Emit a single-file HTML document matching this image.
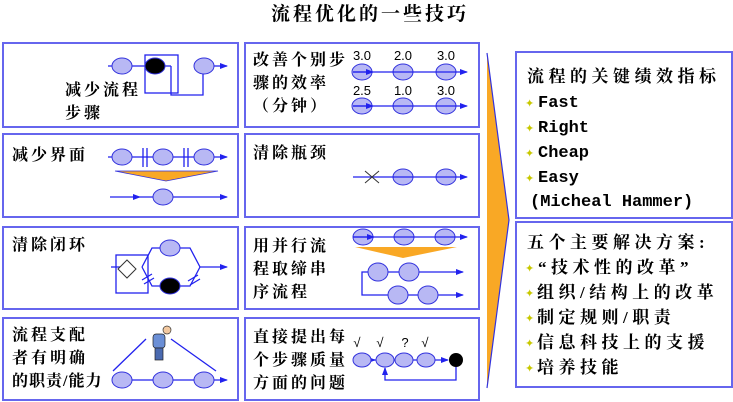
<!DOCTYPE html>
<html><head><meta charset="utf-8"><style>
html,body{margin:0;padding:0;background:#fff;}
svg{display:block;}
.t{font-family:"Liberation Serif","Noto Serif CJK SC",serif;font-weight:bold;font-size:16px;letter-spacing:3px;fill:#000;}
.r{font-family:"Liberation Serif","Noto Serif CJK SC",serif;font-weight:bold;font-size:17px;letter-spacing:4.5px;fill:#000;}
.m{font-family:"Liberation Mono",monospace;font-weight:bold;font-size:17px;fill:#000;}
.n{font-family:"Liberation Sans",sans-serif;font-size:13px;fill:#000;}
.b{fill:none;stroke:#6666ee;stroke-width:2;}
.l{stroke:#2222ee;stroke-width:1.3;fill:none;}
.e{fill:#b8b8f4;stroke:#3333dd;stroke-width:1;}
.k{fill:#000;stroke:#3333dd;stroke-width:1;}
.bul{fill:#c8c800;font-size:11px;font-family:"DejaVu Sans",sans-serif;}
</style></head><body>
<svg width="733" height="402" viewBox="0 0 733 402" xmlns="http://www.w3.org/2000/svg">
<defs><marker id="a" markerWidth="8" markerHeight="6" refX="7" refY="3" orient="auto" markerUnits="userSpaceOnUse"><path d="M0,0L8,3L0,6z" fill="#2222ee"/></marker></defs>
<text x="370" y="20" text-anchor="middle" class="t" style="font-size:19px;letter-spacing:3px">流程优化的一些技巧</text>

<rect x="3" y="43" width="235" height="84" class="b"/>
<rect x="3" y="134" width="235" height="83" class="b"/>
<rect x="3" y="227" width="235" height="82" class="b"/>
<rect x="3" y="318" width="235" height="82" class="b"/>
<rect x="245" y="43" width="234" height="84" class="b"/>
<rect x="245" y="134" width="234" height="83" class="b"/>
<rect x="245" y="227" width="234" height="82" class="b"/>
<rect x="245" y="318" width="234" height="82" class="b"/>
<rect x="516" y="52" width="216" height="166" class="b"/>
<rect x="516" y="222" width="216" height="165" class="b"/>

<polygon points="487,53 509,220 487,388" fill="#f9a825"/>
<path d="M487,53 L509,220 L487,388" stroke="#3333dd" stroke-width="1.2" fill="none"/>

<!-- L1 -->
<text x="65" y="95" class="t">减少流程</text>
<text x="65" y="118" class="t">步骤</text>
<line x1="108" y1="66" x2="171" y2="66" class="l"/>
<rect x="145" y="55" width="33" height="38" class="l"/>
<path d="M171,66 V95 H203 V74" class="l"/>
<line x1="214" y1="66" x2="227" y2="66" class="l" marker-end="url(#a)"/>
<ellipse cx="122" cy="66" rx="10" ry="8" class="e"/>
<ellipse cx="155" cy="66" rx="10" ry="8" class="k"/>
<ellipse cx="204" cy="66" rx="10" ry="8" class="e"/>

<!-- L2 -->
<text x="12" y="160" class="t">减少界面</text>
<line x1="108" y1="157" x2="227" y2="157" class="l" marker-end="url(#a)"/>
<path d="M143,148V167M147,148V167M184,148V167M188,148V167" class="l"/>
<ellipse cx="122" cy="157" rx="10" ry="8" class="e"/>
<ellipse cx="163" cy="157" rx="10" ry="8" class="e"/>
<ellipse cx="204" cy="157" rx="10" ry="8" class="e"/>
<polygon points="115,171 218,171 166,181" fill="#f9a825" stroke="#3333dd" stroke-width="0.8"/>
<line x1="110" y1="197" x2="140" y2="197" class="l" marker-end="url(#a)"/>
<line x1="140" y1="197" x2="227" y2="197" class="l" marker-end="url(#a)"/>
<ellipse cx="163" cy="197" rx="10" ry="8" class="e"/>

<!-- L3 -->
<text x="12" y="250" class="t">清除闭环</text>
<line x1="111" y1="267" x2="120" y2="267" class="l"/>
<rect x="116" y="255" width="32" height="38" class="l"/>
<polygon points="127,260 136,269 127,278 118,269" fill="#fff" stroke="#333" stroke-width="1"/>
<path d="M142,267 L152,248 H190 L200,267" class="l"/>
<path d="M142,267 L152,286 H190 L200,267" class="l"/>
<line x1="200" y1="267" x2="227" y2="267" class="l" marker-end="url(#a)"/>
<path d="M142,280L152,274M144,284L154,278M188,281L198,275M190,285L200,279" class="l"/>
<ellipse cx="170" cy="248" rx="10" ry="8" class="e"/>
<ellipse cx="170" cy="286" rx="10" ry="8" class="k"/>

<!-- L4 -->
<text x="12" y="340" class="t">流程支配</text>
<text x="12" y="363" class="t">者有明确</text>
<text x="12" y="386" class="t" style="letter-spacing:1px">的职责/能力</text>
<line x1="113" y1="371" x2="146" y2="339" class="l"/>
<line x1="171" y1="339" x2="216" y2="371" class="l"/>
<line x1="113" y1="380" x2="227" y2="380" class="l" marker-end="url(#a)"/>
<ellipse cx="122" cy="380" rx="10" ry="8" class="e"/>
<ellipse cx="163" cy="380" rx="10" ry="8" class="e"/>
<ellipse cx="204" cy="380" rx="10" ry="8" class="e"/>
<circle cx="167" cy="330" r="4" fill="#f3c9a0" stroke="#333" stroke-width="0.7"/>
<rect x="153" y="334" width="12" height="14" rx="3" fill="#6b8fd6" stroke="#222" stroke-width="0.7"/>
<rect x="155" y="348" width="8" height="12" fill="#4a6ab0" stroke="#222" stroke-width="0.7"/>

<!-- M1 -->
<text x="253" y="65" class="t">改善个别步</text>
<text x="253" y="88" class="t">骤的效率</text>
<text x="253" y="111" class="t">（分钟）</text>
<text x="362" y="60" class="n" text-anchor="middle">3.0</text>
<text x="403" y="60" class="n" text-anchor="middle">2.0</text>
<text x="446" y="60" class="n" text-anchor="middle">3.0</text>
<text x="362" y="95" class="n" text-anchor="middle">2.5</text>
<text x="403" y="95" class="n" text-anchor="middle">1.0</text>
<text x="446" y="95" class="n" text-anchor="middle">3.0</text>
<ellipse cx="362" cy="72" rx="10" ry="8" class="e"/><ellipse cx="403" cy="72" rx="10" ry="8" class="e"/><ellipse cx="446" cy="72" rx="10" ry="8" class="e"/>
<ellipse cx="362" cy="106" rx="10" ry="8" class="e"/><ellipse cx="403" cy="106" rx="10" ry="8" class="e"/><ellipse cx="446" cy="106" rx="10" ry="8" class="e"/>
<line x1="353" y1="72" x2="373" y2="72" class="l" marker-end="url(#a)"/>
<line x1="353" y1="72" x2="467" y2="72" class="l" marker-end="url(#a)"/>
<line x1="353" y1="106" x2="373" y2="106" class="l" marker-end="url(#a)"/>
<line x1="353" y1="106" x2="467" y2="106" class="l" marker-end="url(#a)"/>

<!-- M2 -->
<text x="253" y="158" class="t">清除瓶颈</text>
<ellipse cx="403" cy="177" rx="10" ry="8" class="e"/><ellipse cx="446" cy="177" rx="10" ry="8" class="e"/>
<line x1="353" y1="177" x2="467" y2="177" class="l" marker-end="url(#a)"/>
<path d="M365,171L379,183M379,171L365,183" stroke="#333" stroke-width="1"/>

<!-- M3 -->
<text x="253" y="251" class="t">用并行流</text>
<text x="253" y="274" class="t">程取缔串</text>
<text x="253" y="297" class="t">序流程</text>
<ellipse cx="363" cy="237" rx="10" ry="8" class="e"/><ellipse cx="404" cy="237" rx="10" ry="8" class="e"/><ellipse cx="445" cy="237" rx="10" ry="8" class="e"/>
<line x1="353" y1="237" x2="374" y2="237" class="l" marker-end="url(#a)"/>
<line x1="353" y1="237" x2="467" y2="237" class="l" marker-end="url(#a)"/>
<polygon points="355,247 457,247 403,258" fill="#f9a825"/>
<path d="M368,272 H362 V295 H388" class="l"/>
<line x1="368" y1="272" x2="463" y2="272" class="l" marker-end="url(#a)"/>
<line x1="388" y1="295" x2="463" y2="295" class="l" marker-end="url(#a)"/>
<ellipse cx="378" cy="272" rx="10" ry="9" class="e"/><ellipse cx="409" cy="272" rx="10" ry="9" class="e"/>
<ellipse cx="398" cy="295" rx="10" ry="9" class="e"/><ellipse cx="428" cy="295" rx="10" ry="9" class="e"/>

<!-- M4 -->
<text x="253" y="342" class="t">直接提出每</text>
<text x="253" y="365" class="t">个步骤质量</text>
<text x="253" y="388" class="t">方面的问题</text>
<text x="357" y="347" class="n" text-anchor="middle">√</text>
<text x="380" y="347" class="n" text-anchor="middle">√</text>
<text x="405" y="347" class="n" text-anchor="middle">?</text>
<text x="425" y="347" class="n" text-anchor="middle">√</text>
<line x1="353" y1="360" x2="375" y2="360" class="l" marker-end="url(#a)"/>
<line x1="353" y1="360" x2="448" y2="360" class="l" marker-end="url(#a)"/>
<path d="M456,367 V380 H385 V368" class="l" marker-end="url(#a)"/>
<ellipse cx="362" cy="360" rx="9" ry="7" class="e"/><ellipse cx="385" cy="360" rx="9" ry="7" class="e"/><ellipse cx="404" cy="360" rx="9" ry="7" class="e"/><ellipse cx="426" cy="360" rx="9" ry="7" class="e"/>
<circle cx="456" cy="360" r="7" fill="#000"/>

<!-- R1 -->
<text x="527" y="82" class="r">流程的关键绩效指标</text>
<text x="525" y="107" class="bul">✦</text><text x="538" y="107" class="m">Fast</text>
<text x="525" y="132" class="bul">✦</text><text x="538" y="132" class="m">Right</text>
<text x="525" y="157" class="bul">✦</text><text x="538" y="157" class="m">Cheap</text>
<text x="525" y="182" class="bul">✦</text><text x="538" y="182" class="m">Easy</text>
<text x="530" y="206" class="m">(Micheal Hammer)</text>

<!-- R2 -->
<text x="527" y="248" class="r">五个主要解决方案:</text>
<text x="525" y="272" class="bul">✦</text><text x="538" y="273" class="r">“技术性的改革”</text>
<text x="525" y="297" class="bul">✦</text><text x="537" y="298" class="r">组织/结构上的改革</text>
<text x="525" y="322" class="bul">✦</text><text x="537" y="323" class="r">制定规则/职责</text>
<text x="525" y="347" class="bul">✦</text><text x="537" y="348" class="r">信息科技上的支援</text>
<text x="525" y="372" class="bul">✦</text><text x="537" y="373" class="r">培养技能</text>
</svg>
</body></html>
